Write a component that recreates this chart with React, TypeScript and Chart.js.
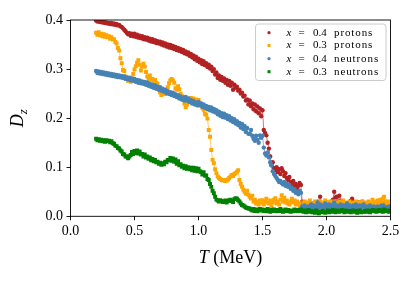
import React, { useEffect, useRef } from "react";
import { Chart, registerables } from "chart.js";
Chart.register(...registerables);

// Temperature grid (MeV)
const T = [
  0.2, 0.21, 0.22, 0.23, 0.24, 0.25, 0.26, 0.27, 0.28, 0.29,
  0.3, 0.31, 0.32, 0.33, 0.34, 0.35, 0.36, 0.37, 0.38, 0.39,
  0.4, 0.41, 0.42, 0.43, 0.44, 0.45, 0.46, 0.47, 0.48, 0.49,
  0.5, 0.51, 0.52, 0.53, 0.54, 0.55, 0.56, 0.57, 0.58, 0.59,
  0.6, 0.61, 0.62, 0.63, 0.64, 0.65, 0.66, 0.67, 0.68, 0.69,
  0.7, 0.71, 0.72, 0.73, 0.74, 0.75, 0.76, 0.77, 0.78, 0.79,
  0.8, 0.81, 0.82, 0.83, 0.84, 0.85, 0.86, 0.87, 0.88, 0.89,
  0.9, 0.91, 0.92, 0.93, 0.94, 0.95, 0.96, 0.97, 0.98, 0.99,
  1.0, 1.01, 1.02, 1.03, 1.04, 1.05, 1.06, 1.07, 1.08, 1.09,
  1.1, 1.11, 1.12, 1.13, 1.14, 1.15, 1.16, 1.17, 1.18, 1.19,
  1.2, 1.21, 1.22, 1.23, 1.24, 1.25, 1.26, 1.27, 1.28, 1.29,
  1.3, 1.31, 1.32, 1.33, 1.34, 1.35, 1.36, 1.37, 1.38, 1.39,
  1.4, 1.41, 1.42, 1.43, 1.44, 1.45, 1.46, 1.47, 1.48, 1.49,
  1.5, 1.51, 1.52, 1.53, 1.54, 1.55, 1.56, 1.57, 1.58, 1.59,
  1.6, 1.61, 1.62, 1.63, 1.64, 1.65, 1.66, 1.67, 1.68, 1.69,
  1.7, 1.71, 1.72, 1.73, 1.74, 1.75, 1.76, 1.77, 1.78, 1.79,
  1.8, 1.81, 1.82, 1.83, 1.84, 1.85, 1.86, 1.87, 1.88, 1.89,
  1.9, 1.91, 1.92, 1.93, 1.94, 1.95, 1.96, 1.97, 1.98, 1.99,
  2.0, 2.01, 2.02, 2.03, 2.04, 2.05, 2.06, 2.07, 2.08, 2.09,
  2.1, 2.11, 2.12, 2.13, 2.14, 2.15, 2.16, 2.17, 2.18, 2.19,
  2.2, 2.21, 2.22, 2.23, 2.24, 2.25, 2.26, 2.27, 2.28, 2.29,
  2.3, 2.31, 2.32, 2.33, 2.34, 2.35, 2.36, 2.37, 2.38, 2.39,
  2.4, 2.41, 2.42, 2.43, 2.44, 2.45, 2.46, 2.47, 2.48, 2.49,
  2.5,
];

const protons04 = [
  0.399, 0.397, 0.398, 0.396, 0.397, 0.395, 0.396, 0.394, 0.395, 0.393,
  0.394, 0.392, 0.394, 0.391, 0.393, 0.390, 0.392, 0.389, 0.390, 0.387,
  0.386, 0.383, 0.380, 0.377, 0.374, 0.371, 0.373, 0.368, 0.372, 0.367,
  0.372, 0.366, 0.370, 0.364, 0.368, 0.363, 0.367, 0.361, 0.365, 0.360,
  0.364, 0.358, 0.362, 0.356, 0.361, 0.355, 0.359, 0.353, 0.357, 0.352,
  0.356, 0.350, 0.354, 0.348, 0.352, 0.346, 0.350, 0.344, 0.349, 0.343,
  0.347, 0.341, 0.345, 0.339, 0.343, 0.337, 0.341, 0.335, 0.339, 0.332,
  0.336, 0.330, 0.334, 0.327, 0.331, 0.324, 0.328, 0.320, 0.325, 0.317,
  0.321, 0.314, 0.318, 0.310, 0.316, 0.308, 0.312, 0.304, 0.309, 0.301,
  0.305, 0.296, 0.300, 0.289, 0.293, 0.282, 0.287, 0.278, 0.284, 0.276,
  0.281, 0.272, 0.278, 0.268, 0.276, 0.266, 0.272, 0.258, 0.268, 0.262,
  0.264, 0.256, 0.258, 0.250, 0.252, 0.244, 0.246, 0.236, 0.238, 0.228,
  0.236, 0.224, 0.230, 0.218, 0.228, 0.214, 0.224, 0.210, 0.220, 0.204,
  0.216, 0.176, 0.170, 0.165, 0.150, 0.138, 0.122, 0.104, 0.110, 0.098,
  0.094, 0.100, 0.090, 0.096, 0.086, 0.098, 0.092, 0.082, 0.088, 0.078,
  0.074, 0.080, 0.070, 0.066, 0.072, 0.060, 0.066, 0.056, 0.062, 0.068,
  0.064, 0.030, 0.022, 0.018, 0.024, 0.020, 0.016, 0.022, 0.018, 0.026,
  0.020, 0.024, 0.018, 0.030, 0.022, 0.040, 0.026, 0.020, 0.018, 0.024,
  0.028, 0.022, 0.026, 0.020, 0.030, 0.034, 0.050, 0.038, 0.040, 0.030,
  0.042, 0.032, 0.024, 0.028, 0.020, 0.026, 0.022, 0.018, 0.024, 0.032,
  0.036, 0.030, 0.026, 0.022, 0.018, 0.028, 0.024, 0.020, 0.030, 0.026,
  0.024, 0.020, 0.016, 0.022, 0.018, 0.014, 0.020, 0.024, 0.018, 0.016,
  0.020, 0.024, 0.018, 0.022, 0.026, 0.020, 0.016, 0.022, 0.018, 0.020,
  0.016,
];

const protons03 = [
  0.374, 0.370, 0.375, 0.369, 0.372, 0.367, 0.371, 0.366, 0.369, 0.365,
  0.367, 0.362, 0.365, 0.360, 0.361, 0.355, 0.352, 0.343, 0.338, 0.322,
  0.312, 0.298, 0.296, 0.285, 0.282, 0.276, 0.283, 0.274, 0.281, 0.290,
  0.299, 0.306, 0.313, 0.318, 0.309, 0.297, 0.305, 0.311, 0.305, 0.294,
  0.285, 0.280, 0.287, 0.278, 0.280, 0.276, 0.278, 0.272, 0.270, 0.261,
  0.252, 0.247, 0.251, 0.254, 0.249, 0.257, 0.263, 0.271, 0.277, 0.280,
  0.277, 0.272, 0.261, 0.258, 0.265, 0.259, 0.250, 0.245, 0.238, 0.230,
  0.222, 0.228, 0.233, 0.238, 0.241, 0.235, 0.240, 0.233, 0.238, 0.235,
  0.237, 0.231, 0.227, 0.221, 0.217, 0.209, 0.207, 0.199, 0.176, 0.162,
  0.135, 0.115, 0.108, 0.096, 0.088, 0.081, 0.078, 0.076, 0.074, 0.073,
  0.074, 0.072, 0.073, 0.075, 0.078, 0.081, 0.084, 0.082, 0.086, 0.088,
  0.091, 0.094, 0.074, 0.066, 0.060, 0.054, 0.050, 0.046, 0.052, 0.044,
  0.040, 0.036, 0.042, 0.030, 0.034, 0.026, 0.030, 0.024, 0.032, 0.028,
  0.033, 0.024, 0.030, 0.036, 0.028, 0.026, 0.032, 0.020, 0.028, 0.034,
  0.037, 0.026, 0.030, 0.024, 0.034, 0.043, 0.030, 0.038, 0.028, 0.032,
  0.026, 0.024, 0.030, 0.036, 0.028, 0.032, 0.024, 0.030, 0.026, 0.020,
  0.022, 0.028, 0.024, 0.030, 0.026, 0.022, 0.028, 0.032, 0.024, 0.020,
  0.026, 0.030, 0.022, 0.028, 0.024, 0.030, 0.026, 0.020, 0.028, 0.032,
  0.024, 0.028, 0.022, 0.030, 0.026, 0.024, 0.030, 0.028, 0.022, 0.026,
  0.030, 0.024, 0.028, 0.032, 0.026, 0.022, 0.028, 0.024, 0.030, 0.026,
  0.022, 0.028, 0.024, 0.030, 0.026, 0.020, 0.028, 0.024, 0.030, 0.022,
  0.026, 0.028, 0.024, 0.030, 0.022, 0.026, 0.034, 0.028, 0.024, 0.030,
  0.032, 0.026, 0.034, 0.028, 0.036, 0.040, 0.030, 0.026, 0.030, 0.024,
  0.022,
];

const neutrons04 = [
  0.296, 0.292, 0.295, 0.291, 0.294, 0.290, 0.293, 0.289, 0.292, 0.288,
  0.291, 0.287, 0.290, 0.286, 0.289, 0.285, 0.288, 0.284, 0.287, 0.283,
  0.286, 0.282, 0.285, 0.280, 0.283, 0.279, 0.282, 0.277, 0.281, 0.276,
  0.280, 0.274, 0.278, 0.272, 0.277, 0.271, 0.275, 0.270, 0.274, 0.268,
  0.273, 0.266, 0.270, 0.264, 0.268, 0.262, 0.267, 0.260, 0.264, 0.258,
  0.263, 0.256, 0.260, 0.254, 0.258, 0.251, 0.255, 0.249, 0.253, 0.247,
  0.252, 0.245, 0.249, 0.243, 0.247, 0.240, 0.244, 0.238, 0.242, 0.236,
  0.243, 0.236, 0.240, 0.233, 0.237, 0.230, 0.235, 0.228, 0.232, 0.226,
  0.233, 0.226, 0.230, 0.223, 0.228, 0.221, 0.225, 0.218, 0.223, 0.216,
  0.222, 0.214, 0.219, 0.212, 0.216, 0.208, 0.213, 0.205, 0.210, 0.202,
  0.209, 0.201, 0.206, 0.198, 0.204, 0.195, 0.200, 0.192, 0.198, 0.189,
  0.194, 0.186, 0.190, 0.181, 0.188, 0.178, 0.184, 0.172, 0.180, 0.168,
  0.168, 0.176, 0.164, 0.158, 0.154, 0.164, 0.156, 0.150, 0.165, 0.160,
  0.164, 0.140, 0.128, 0.124, 0.130, 0.120, 0.110, 0.104, 0.092, 0.086,
  0.082, 0.078, 0.074, 0.070, 0.072, 0.068, 0.065, 0.070, 0.062, 0.066,
  0.060, 0.064, 0.056, 0.058, 0.052, 0.055, 0.048, 0.050, 0.045, 0.052,
  0.048, 0.020, 0.016, 0.022, 0.018, 0.014, 0.020, 0.016, 0.024, 0.018,
  0.022, 0.016, 0.020, 0.028, 0.018, 0.024, 0.020, 0.016, 0.022, 0.026,
  0.020, 0.018, 0.024, 0.016, 0.022, 0.020, 0.028, 0.018, 0.022, 0.016,
  0.020, 0.024, 0.018, 0.022, 0.016, 0.020, 0.026, 0.018, 0.022, 0.020,
  0.016, 0.022, 0.018, 0.024, 0.020, 0.016, 0.022, 0.018, 0.020, 0.024,
  0.018, 0.014, 0.020, 0.016, 0.022, 0.018, 0.016, 0.020, 0.014, 0.018,
  0.020, 0.016, 0.018, 0.022, 0.016, 0.020, 0.014, 0.018, 0.016, 0.020,
  0.018,
];

const neutrons03 = [
  0.158, 0.155, 0.157, 0.154, 0.156, 0.153, 0.155, 0.152, 0.155, 0.153,
  0.154, 0.151, 0.153, 0.149, 0.148, 0.144, 0.143, 0.139, 0.138, 0.134,
  0.132, 0.127, 0.126, 0.122, 0.122, 0.118, 0.122, 0.125, 0.131, 0.127,
  0.133, 0.129, 0.134, 0.128, 0.132, 0.126, 0.127, 0.122, 0.126, 0.120,
  0.122, 0.117, 0.120, 0.114, 0.117, 0.112, 0.115, 0.110, 0.111, 0.107,
  0.109, 0.105, 0.108, 0.106, 0.111, 0.110, 0.115, 0.114, 0.119, 0.113,
  0.118, 0.111, 0.116, 0.107, 0.112, 0.104, 0.106, 0.101, 0.103, 0.098,
  0.102, 0.097, 0.100, 0.096, 0.099, 0.094, 0.099, 0.093, 0.098, 0.092,
  0.097, 0.092, 0.090, 0.085, 0.090, 0.083, 0.083, 0.076, 0.074, 0.066,
  0.060, 0.052, 0.047, 0.040, 0.034, 0.032, 0.030, 0.033, 0.031, 0.029,
  0.030, 0.032, 0.028, 0.031, 0.033, 0.034, 0.031, 0.029, 0.035, 0.037,
  0.036, 0.033, 0.030, 0.026, 0.023, 0.022, 0.020, 0.018, 0.017, 0.016,
  0.016, 0.014, 0.012, 0.015, 0.011, 0.014, 0.010, 0.013, 0.015, 0.012,
  0.014, 0.011, 0.013, 0.010, 0.015, 0.012, 0.009, 0.013, 0.011, 0.014,
  0.012, 0.010, 0.013, 0.011, 0.015, 0.012, 0.009, 0.012, 0.014, 0.010,
  0.013, 0.011, 0.009, 0.012, 0.010, 0.014, 0.011, 0.013, 0.010, 0.012,
  0.014, 0.011, 0.009, 0.012, 0.008, 0.010, 0.013, 0.009, 0.011, 0.008,
  0.010, 0.007, 0.012, 0.009, 0.006, 0.010, 0.008, 0.011, 0.009, 0.007,
  0.010, 0.012, 0.008, 0.011, 0.009, 0.013, 0.010, 0.008, 0.012, 0.010,
  0.009, 0.011, 0.013, 0.010, 0.008, 0.012, 0.010, 0.009, 0.011, 0.008,
  0.010, 0.012, 0.009, 0.011, 0.007, 0.010, 0.012, 0.008, 0.010, 0.009,
  0.011, 0.009, 0.012, 0.010, 0.008, 0.011, 0.013, 0.010, 0.012, 0.009,
  0.011, 0.013, 0.010, 0.012, 0.009, 0.014, 0.011, 0.010, 0.012, 0.009,
  0.010,
];

const xTicks = [0.0, 0.5, 1.0, 1.5, 2.0, 2.5];
const yTicks = [0.0, 0.1, 0.2, 0.3, 0.4];

const seriesValue = ["0.4", "0.3", "0.4", "0.3"];
const seriesWord = ["protons", "protons", "neutrons", "neutrons"];
const seriesColor = ["#b22222", "#ffa500", "#4682b4", "#008000"];
const seriesLineColor = [
  "rgba(178,34,34,0.75)",
  "rgba(255,165,0,0.75)",
  "rgba(70,130,180,0.75)",
  "rgba(0,128,0,0.75)",
];
const seriesMarker = ["circle", "rect", "circle", "rect"];
const seriesData = [protons04, protons03, neutrons04, neutrons03];

const SERIF = "'Liberation Serif', 'Times New Roman', serif";

const decorPlugin = {
  id: "decor",
  afterDraw(chart: any) {
    const { ctx, chartArea: a } = chart;
    ctx.save();
    // frame
    ctx.strokeStyle = "#000";
    ctx.lineWidth = 0.9;
    ctx.strokeRect(a.left, a.top, a.right - a.left, a.bottom - a.top);

    // x title: T (MeV)
    ctx.fillStyle = "#000";
    ctx.textBaseline = "alphabetic";
    ctx.textAlign = "left";
    ctx.font = `italic 18px ${SERIF}`;
    const wT = ctx.measureText("T").width;
    ctx.font = `18px ${SERIF}`;
    const wRest = ctx.measureText(" (MeV)").width;
    const cx = (a.left + a.right) / 2;
    const x0 = cx - (wT + wRest) / 2;
    ctx.font = `italic 18px ${SERIF}`;
    ctx.fillText("T", x0, 263);
    ctx.font = `18px ${SERIF}`;
    ctx.fillText(" (MeV)", x0 + wT, 263);

    // y title: D_z
    ctx.save();
    const cy = (a.top + a.bottom) / 2;
    ctx.translate(23, cy);
    ctx.rotate(-Math.PI / 2);
    ctx.font = `italic 18px ${SERIF}`;
    const wD = ctx.measureText("D").width;
    ctx.font = `italic 13px ${SERIF}`;
    const wz = ctx.measureText("z").width;
    const tot = wD + wz;
    ctx.font = `italic 18px ${SERIF}`;
    ctx.fillText("D", -tot / 2, 0);
    ctx.font = `italic 13px ${SERIF}`;
    ctx.fillText("z", -tot / 2 + wD, 4);
    ctx.restore();

    // legend
    const lx = 255.5, ly = 24, lw = 130.5, lh = 56.5, r = 3;
    ctx.beginPath();
    ctx.moveTo(lx + r, ly);
    ctx.lineTo(lx + lw - r, ly);
    ctx.quadraticCurveTo(lx + lw, ly, lx + lw, ly + r);
    ctx.lineTo(lx + lw, ly + lh - r);
    ctx.quadraticCurveTo(lx + lw, ly + lh, lx + lw - r, ly + lh);
    ctx.lineTo(lx + r, ly + lh);
    ctx.quadraticCurveTo(lx, ly + lh, lx, ly + lh - r);
    ctx.lineTo(lx, ly + r);
    ctx.quadraticCurveTo(lx, ly, lx + r, ly);
    ctx.closePath();
    ctx.fillStyle = "rgba(255,255,255,0.8)";
    ctx.fill();
    ctx.strokeStyle = "#cccccc";
    ctx.lineWidth = 1;
    ctx.stroke();

    const rows = [32.7, 45.5, 58.7, 71.7];
    for (let i = 0; i < 4; i++) {
      const y = rows[i];
      ctx.fillStyle = seriesColor[i];
      if (seriesMarker[i] === "circle") {
        ctx.beginPath();
        ctx.arc(269, y, 1.6, 0, Math.PI * 2);
        ctx.fill();
      } else {
        ctx.fillRect(267.5, y - 1.5, 3, 3);
      }
      ctx.fillStyle = "#000";
      ctx.textBaseline = "middle";
      ctx.font = `italic 11px ${SERIF}`;
      ctx.fillText("x", 286.5, y);
      ctx.font = `11px ${SERIF}`;
      ctx.fillText("=", 298.5, y);
      ctx.fillText(seriesValue[i], 313, y);
      (ctx as any).letterSpacing = "0.9px";
      ctx.fillText(seriesWord[i], 334, y);
      (ctx as any).letterSpacing = "0px";
    }
    ctx.restore();
  },
};

export default function App() {
  const ref = useRef<HTMLCanvasElement | null>(null);
  useEffect(() => {
    if (!ref.current) return;
    const datasets = seriesData.map((arr, i) => ({
      label: `x = ${seriesValue[i]} ${seriesWord[i]}`,
      data: T.map((t, j) => ({ x: t, y: arr[j] })),
      borderColor: seriesLineColor[i],
      backgroundColor: seriesColor[i],
      pointBackgroundColor: seriesColor[i],
      pointBorderWidth: 0,
      pointRadius: seriesMarker[i] === "circle" ? 2.2 : 2.8,
      pointStyle: seriesMarker[i],
      borderWidth: 0.8,
      showLine: true,
      tension: 0,
      order: 3 - i,
    }));
    const chart = new Chart(ref.current, {
      type: "scatter",
      data: { datasets },
      plugins: [decorPlugin],
      options: {
        animation: false,
        responsive: false,
        devicePixelRatio: 1,
        layout: { padding: { left: 0, top: 20, right: 24.5, bottom: 0 } },
        plugins: { legend: { display: false }, tooltip: { enabled: false } },
        scales: {
          x: {
            type: "linear",
            min: 0,
            max: 2.5,
            afterBuildTicks: (s: any) => {
              s.ticks = xTicks.map((v) => ({ value: v }));
            },
            afterFit: (s: any) => {
              s.height = 66.7;
            },
            grid: {
              drawOnChartArea: false,
              drawTicks: true,
              tickLength: 4,
              tickColor: "#000",
              tickWidth: 0.9,
            },
            border: { display: false },
            ticks: {
              color: "#000",
              padding: 3,
              maxRotation: 0,
              font: { family: SERIF, size: 14 },
              callback: (v: any) => Number(v).toFixed(1),
            },
          },
          y: {
            type: "linear",
            min: 0,
            max: 0.4,
            afterBuildTicks: (s: any) => {
              s.ticks = yTicks.map((v) => ({ value: v }));
            },
            afterFit: (s: any) => {
              s.width = 70.5;
            },
            grid: {
              drawOnChartArea: false,
              drawTicks: true,
              tickLength: 4,
              tickColor: "#000",
              tickWidth: 0.9,
            },
            border: { display: false },
            ticks: {
              color: "#000",
              padding: 3.5,
              font: { family: SERIF, size: 14 },
              callback: (v: any) => Number(v).toFixed(1),
            },
          },
        },
      },
    } as any);
    return () => chart.destroy();
  }, []);
  return (
    <div style={{ position: "fixed", left: 0, top: 0, width: 415, height: 283, background: "#fff" }}>
      <canvas ref={ref} width={415} height={283} style={{ width: 415, height: 283 }} />
    </div>
  );
}
